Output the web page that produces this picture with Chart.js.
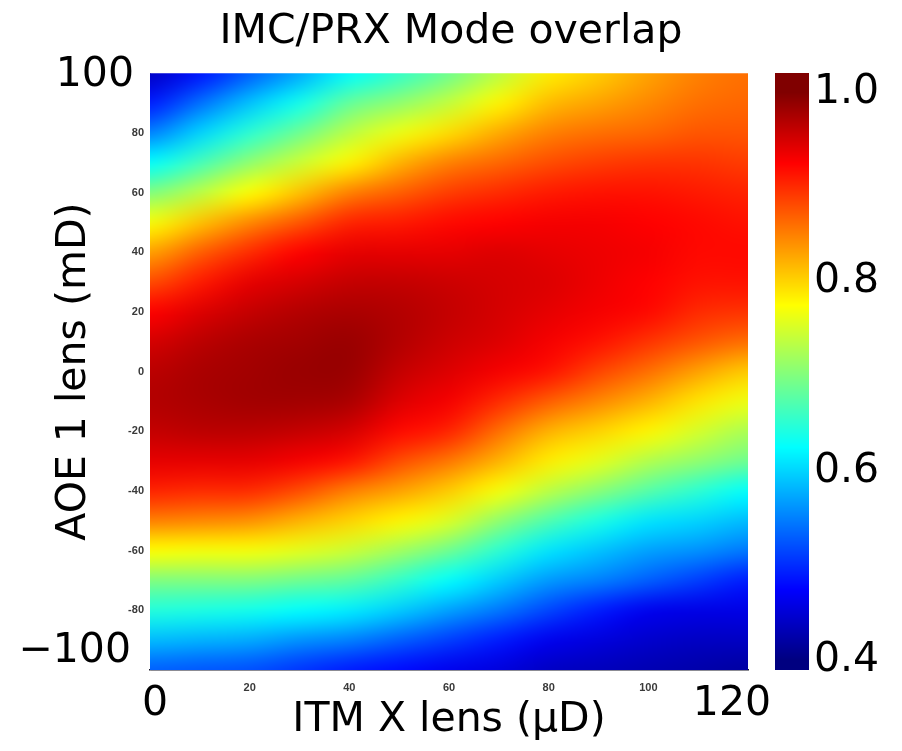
<!DOCTYPE html>
<html>
<head>
<meta charset="utf-8">
<script src="https://cdn.jsdelivr.net/npm/chart.js@4.4.1/dist/chart.umd.min.js"></script>
<style>
  html, body { margin: 0; padding: 0; background: #fff; }
  #wrap { width: 902px; height: 751px; position: relative; }
</style>
</head>
<body>
<div id="wrap"><canvas id="overlapChart"></canvas></div>
<script>
// ITM X lens (uD) columns and AOE 1 lens (mD) rows, top row first
const xLens = [0, 10, 20, 30, 40, 50, 60, 70, 80, 90, 100, 110, 120];
const aoeLens = [100, 90, 80, 70, 60, 50, 40, 30, 20, 10, 0, -10, -20, -30, -40, -50, -60, -70, -80, -90, -100];

// mode overlap, one array per x column (y = 100 ... -100)
const overlapX0   = [0.44, 0.49, 0.55, 0.625, 0.70, 0.77, 0.83, 0.88, 0.925, 0.95, 0.965, 0.97, 0.96, 0.94, 0.905, 0.85, 0.775, 0.70, 0.645, 0.585, 0.53];
const overlapX10  = [0.485, 0.54, 0.60, 0.665, 0.735, 0.81, 0.87, 0.91, 0.945, 0.965, 0.975, 0.975, 0.965, 0.94, 0.90, 0.845, 0.77, 0.70, 0.64, 0.58, 0.525];
const overlapX20  = [0.53, 0.59, 0.65, 0.71, 0.775, 0.845, 0.90, 0.94, 0.96, 0.975, 0.98, 0.98, 0.965, 0.94, 0.90, 0.84, 0.77, 0.70, 0.635, 0.575, 0.52];
const overlapX30  = [0.575, 0.635, 0.69, 0.745, 0.81, 0.875, 0.925, 0.95, 0.97, 0.98, 0.985, 0.98, 0.96, 0.93, 0.88, 0.82, 0.76, 0.69, 0.625, 0.56, 0.505];
const overlapX40  = [0.625, 0.685, 0.735, 0.78, 0.85, 0.905, 0.94, 0.96, 0.975, 0.985, 0.985, 0.975, 0.95, 0.915, 0.85, 0.80, 0.745, 0.68, 0.615, 0.55, 0.49];
const overlapX50  = [0.655, 0.71, 0.765, 0.82, 0.87, 0.91, 0.94, 0.96, 0.97, 0.97, 0.96, 0.945, 0.92, 0.88, 0.83, 0.78, 0.72, 0.655, 0.595, 0.53, 0.48];
const overlapX60  = [0.69, 0.74, 0.795, 0.85, 0.89, 0.92, 0.94, 0.955, 0.96, 0.955, 0.945, 0.93, 0.905, 0.855, 0.805, 0.755, 0.69, 0.625, 0.57, 0.51, 0.465];
const overlapX70  = [0.735, 0.78, 0.825, 0.865, 0.90, 0.925, 0.945, 0.95, 0.95, 0.945, 0.93, 0.90, 0.86, 0.82, 0.77, 0.71, 0.65, 0.595, 0.545, 0.49, 0.455];
const overlapX80  = [0.785, 0.815, 0.85, 0.88, 0.91, 0.93, 0.94, 0.945, 0.94, 0.93, 0.915, 0.87, 0.82, 0.785, 0.735, 0.67, 0.61, 0.565, 0.515, 0.465, 0.44];
const overlapX90  = [0.805, 0.83, 0.86, 0.89, 0.915, 0.93, 0.935, 0.935, 0.93, 0.915, 0.885, 0.845, 0.80, 0.76, 0.705, 0.64, 0.59, 0.55, 0.49, 0.455, 0.435];
const overlapX100 = [0.83, 0.845, 0.865, 0.895, 0.915, 0.925, 0.93, 0.925, 0.92, 0.895, 0.86, 0.82, 0.78, 0.73, 0.675, 0.61, 0.57, 0.53, 0.465, 0.445, 0.43];
const overlapX110 = [0.85, 0.86, 0.875, 0.895, 0.91, 0.92, 0.92, 0.915, 0.90, 0.875, 0.83, 0.79, 0.75, 0.71, 0.65, 0.60, 0.56, 0.51, 0.46, 0.44, 0.425];
const overlapX120 = [0.86, 0.865, 0.875, 0.89, 0.905, 0.915, 0.92, 0.915, 0.895, 0.86, 0.805, 0.765, 0.725, 0.69, 0.625, 0.585, 0.545, 0.49, 0.46, 0.44, 0.42];

const overlapColumns = [overlapX0, overlapX10, overlapX20, overlapX30, overlapX40, overlapX50, overlapX60,
  overlapX70, overlapX80, overlapX90, overlapX100, overlapX110, overlapX120];

const colorMin = 0.4, colorMax = 1.0;
const colorbarTicks = [0.4, 0.6, 0.8, 1.0];

const bigFont = '"DejaVu Sans", Verdana, sans-serif';

function clamp01(v) { return Math.max(0, Math.min(1, v)); }
function jet(v) {
	let t = clamp01((v - colorMin) / (colorMax - colorMin));
	let r = clamp01(1.5 - Math.abs(4 * t - 3));
	let g = clamp01(1.5 - Math.abs(4 * t - 2));
	let b = clamp01(1.5 - Math.abs(4 * t - 1));
	return [Math.round(r * 255), Math.round(g * 255), Math.round(b * 255)];
}

let points = [];
xLens.forEach((x, i) => {
	aoeLens.forEach((y, j) => {
		points.push({ x: x, y: y, v: overlapColumns[i][j] });
	});
});

// paints the grid through the x/y scales, then the colorbar on the cbar axis
const heatmapPlugin = {
	id: 'heatmap',
	beforeDatasetsDraw(chart) {
		const ctx = chart.ctx;
		const area = chart.chartArea;
		const xs = chart.scales.x, ys = chart.scales.y;
		const data = chart.data.datasets[0].data;

		let off = document.createElement('canvas');
		off.width = xLens.length;
		off.height = aoeLens.length;
		let octx = off.getContext('2d');
		let img = octx.createImageData(off.width, off.height);
		data.forEach((p) => {
			let i = xLens.indexOf(p.x);
			let j = aoeLens.indexOf(p.y);
			let c = jet(p.v);
			let k = (j * off.width + i) * 4;
			img.data[k] = c[0]; img.data[k + 1] = c[1]; img.data[k + 2] = c[2]; img.data[k + 3] = 255;
		});
		octx.putImageData(img, 0, 0);

		const halfX = (xLens[1] - xLens[0]) / 2;
		const halfY = (aoeLens[0] - aoeLens[1]) / 2;
		let left = xs.getPixelForValue(xLens[0] - halfX);
		let right = xs.getPixelForValue(xLens[xLens.length - 1] + halfX);
		let top = ys.getPixelForValue(aoeLens[0] + halfY);
		let bottom = ys.getPixelForValue(aoeLens[aoeLens.length - 1] - halfY);

		ctx.save();
		ctx.beginPath();
		ctx.rect(area.left, area.top, area.right - area.left, area.bottom - area.top);
		ctx.clip();
		ctx.imageSmoothingEnabled = true;
		ctx.imageSmoothingQuality = 'high';
		ctx.drawImage(off, left, top, right - left, bottom - top);
		ctx.restore();

		// colorbar
		const cb = chart.scales.cbar;
		let barLeft = cb.left + 27, barWidth = 34;
		for (let py = Math.floor(cb.top); py < cb.bottom; py++) {
			let c = jet(cb.getValueForPixel(py + 0.5));
			ctx.fillStyle = `rgb(${c[0]},${c[1]},${c[2]})`;
			ctx.fillRect(barLeft, py, barWidth, 1);
		}
	},
	afterDraw(chart) {
		const ctx = chart.ctx;
		const xs = chart.scales.x, ys = chart.scales.y;
		const area = chart.chartArea;
		ctx.save();
		ctx.fillStyle = '#000';
		ctx.font = `41px ${bigFont}`;
		ctx.textBaseline = 'middle';
		ctx.textAlign = 'right';
		ctx.fillText('100', area.left - 16, ys.getPixelForValue(100) + 2);
		ctx.fillText('\u2212100', area.left - 19, ys.getPixelForValue(-100) - 19);
		ctx.textAlign = 'center';
		ctx.fillText('0', xs.getPixelForValue(0) + 5, area.bottom + 34);
		ctx.fillText('120', xs.getPixelForValue(120) - 16, area.bottom + 34);
		ctx.restore();
	}
};

const smallTick = { family: '"Liberation Sans", Arial, sans-serif', size: 11, weight: 'bold', lineHeight: 1 };

let chartctx = document.querySelector('#overlapChart');
let overlapChart = new Chart(chartctx, {
	type: 'scatter',
	data: {
		datasets: [
			{
				label: 'Mode overlap',
				data: points,
				pointRadius: 0,
				pointHoverRadius: 0,
			},
		],
	},
	options: {
		responsive: true,
		maintainAspectRatio: false,
		animation: false,
		layout: { padding: 0 },
		plugins: {
			legend: { display: false },
			tooltip: { enabled: false },
			title: {
				display: true,
				text: 'IMC/PRX Mode overlap',
				color: '#000',
				font: { family: bigFont, size: 41, weight: 'normal', lineHeight: 1.2 },
				padding: { top: 8, bottom: 16 },
			},
		},
		scales: {
			x: {
				type: 'linear',
				min: 0,
				max: 120,
				grid: { display: false, drawTicks: false },
				border: { display: true, color: '#1a1a2a', width: 1.5 },
				ticks: {
					stepSize: 20,
					padding: 12,
					color: '#3a3a3a',
					font: smallTick,
					callback: (v) => (v === 0 || v === 120 ? '' : String(v)),
				},
				title: {
					display: true,
					text: 'ITM X lens (\u03bcD)',
					color: '#000',
					font: { family: bigFont, size: 41, lineHeight: 1.2 },
					padding: { top: 0, bottom: 6 },
				},
				afterFit: (scale) => { scale.height = 81; },
			},
			y: {
				type: 'linear',
				position: 'left',
				min: -100,
				max: 100,
				grid: { display: false, drawTicks: false },
				border: { display: true, color: '#999', width: 1 },
				ticks: {
					stepSize: 20,
					padding: 6,
					color: '#3a3a3a',
					font: smallTick,
					callback: (v) => (v === 100 || v === -100 ? '' : String(v)),
				},
				title: {
					display: true,
					text: 'AOE 1 lens (mD)',
					color: '#000',
					font: { family: bigFont, size: 41, lineHeight: 1.2 },
					padding: { top: 50, bottom: 0 },
				},
				afterFit: (scale) => { scale.width = 150; },
			},
			cbar: {
				type: 'linear',
				position: 'right',
				min: 0.39,
				max: 1.02,
				grid: { display: false, drawTicks: false },
				border: { display: false },
				afterBuildTicks: (scale) => {
					scale.ticks = colorbarTicks.map((v) => ({ value: v }));
				},
				ticks: {
					padding: 66,
					color: '#000',
					font: { family: bigFont, size: 41, lineHeight: 0.3 },
					callback: (v) => Number(v).toFixed(1),
				},
				afterFit: (scale) => { scale.width = 154; },
			},
		},
	},
	plugins: [heatmapPlugin],
});
</script>
</body>
</html>
